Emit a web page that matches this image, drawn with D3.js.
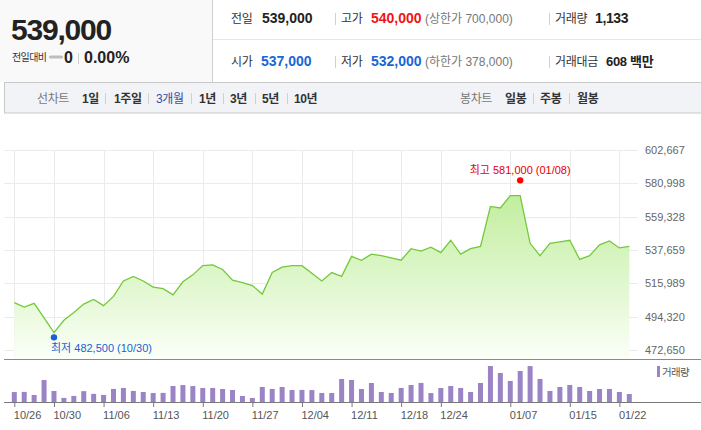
<!DOCTYPE html>
<html>
<head>
<meta charset="utf-8">
<script src="https://cdn.jsdelivr.net/npm/d3@7"></script>
<style>
  body { margin: 0; background: #fff; }
  svg { display: block; font-family: "Liberation Sans", "Noto Sans CJK KR", sans-serif; }
</style>
</head>
<body>
<svg id="page" width="701" height="430"></svg>
<script>
// trading days, 2020-10-26 .. 2021-01-25
var dates = ["10/26","10/27","10/28","10/29","10/30",
  "11/02","11/03","11/04","11/05","11/06","11/09","11/10","11/11","11/12","11/13",
  "11/16","11/17","11/18","11/19","11/20","11/23","11/24","11/25","11/26","11/27","11/30",
  "12/01","12/02","12/03","12/04","12/07","12/08","12/09","12/10","12/11",
  "12/14","12/15","12/16","12/17","12/18","12/21","12/22","12/23","12/24",
  "12/28","12/29","12/30","01/04","01/05","01/06","01/07","01/08",
  "01/11","01/12","01/13","01/14","01/15","01/18","01/19","01/20","01/21","01/22","01/25"];

// closing price
var closes = [503500, 500500, 503000, 493500, 484000, 492000, 497000, 502500, 505500, 501500,
  507500, 517500, 520500, 517500, 513500, 512500, 508500, 517000, 521500, 527500,
  528000, 525000, 518000, 516500, 514500, 509000, 523000, 526500, 527500, 527500,
  522500, 517500, 523000, 520500, 533500, 531000, 535000, 534000, 532500, 531000,
  538500, 537000, 539500, 536000, 544000, 535000, 538500, 540000, 566000, 565000,
  573000, 573000, 542000, 534000, 542000, 543000, 544000, 531500, 534000, 541000,
  543500, 539000, 540000];

// volume (shares)
var volumes = [1410, 1430, 990, 3120, 1560, 580, 860, 1540, 1150, 1000,
  1850, 1990, 1570, 1420, 1280, 1290, 2270, 2400, 2260, 1980,
  1990, 1840, 1700, 850, 570, 2130, 1850, 2120, 1700, 1710,
  1690, 1280, 1270, 3260, 3120, 1840, 2690, 1420, 1280, 1990,
  2410, 2700, 1270, 1980, 2270, 1990, 1420, 2690, 5100, 4110,
  2980, 4390, 5090, 3260, 1560, 2130, 2410, 2120, 1560, 1840,
  1850, 1420, 1133];

var tickDates = ["10/26","10/30","11/06","11/13","11/20","11/27","12/04","12/11","12/18","12/24","01/07","01/15","01/22"];
var priceTicks = [472650, 494320, 515989, 537659, 559328, 580998, 602667];

var highMark = { value: 581000, date: "01/08" };
var lowMark = { value: 482500, date: "10/30" };

var svg = d3.select("#page");

function txt(g, x, y, s, size, color, weight, spacing) {
  return g.append("text")
    .attr("x", x).attr("y", y)
    .attr("font-size", size)
    .attr("fill", color || "#333")
    .attr("font-weight", weight || "normal")
    .attr("letter-spacing", spacing || 0)
    .text(s);
}

function vsep(g, x, y1, y2) {
  g.append("line")
    .attr("x1", x).attr("x2", x).attr("y1", y1).attr("y2", y2)
    .attr("stroke", "#d0d0d0");
}

/*
 * Quote header + period tabs
 */
function drawHeader() {
  var g = svg.append("g").attr("class", "header");

  g.append("rect").attr("x", 0).attr("y", 0).attr("width", 212).attr("height", 82).attr("fill", "#f9f9f9");
  g.append("line").attr("x1", 212.5).attr("x2", 212.5).attr("y1", 0).attr("y2", 82).attr("stroke", "#cfcfcf");
  g.append("line").attr("x1", 213).attr("x2", 701).attr("y1", 39.5).attr("y2", 39.5).attr("stroke", "#e6e6e6");

  txt(g, 11, 40, "539,000", 30, "#222", "bold", -1.2);
  txt(g, 12, 61, "전일대비", 10, "#333", "normal", -0.6);
  g.append("rect").attr("x", 49).attr("y", 55.5).attr("width", 14).attr("height", 3).attr("rx", 1.5).attr("fill", "#bdbdbd");
  txt(g, 64, 63, "0", 16, "#222", "bold");
  vsep(g, 78.5, 53, 64);
  txt(g, 84, 63, "0.00%", 16, "#222", "bold");

  // row 1
  txt(g, 231, 23, "전일", 12, "#333", "normal", -0.3);
  txt(g, 262, 23, "539,000", 14, "#222", "bold");
  vsep(g, 335.5, 13, 25);
  txt(g, 341, 23, "고가", 12, "#333", "normal", -0.3);
  txt(g, 371, 23, "540,000", 14, "#f01414", "bold");
  txt(g, 425, 23, "(상한가 700,000)", 12, "#777");
  vsep(g, 549.5, 13, 25);
  txt(g, 555, 23, "거래량", 12, "#333", "normal", -0.3);
  txt(g, 595, 23, "1,133", 14, "#222", "bold", -0.4);

  // row 2
  txt(g, 231, 66, "시가", 12, "#333", "normal", -0.3);
  txt(g, 261, 66, "537,000", 14, "#1a66d6", "bold");
  vsep(g, 335.5, 56, 68);
  txt(g, 341, 66, "저가", 12, "#333", "normal", -0.3);
  txt(g, 371, 66, "532,000", 14, "#1a66d6", "bold");
  txt(g, 425, 66, "(하한가 378,000)", 12, "#777");
  vsep(g, 549.5, 56, 68);
  txt(g, 555, 66, "거래대금", 12, "#333", "normal", -0.3);
  txt(g, 606, 66, "608 백만", 13, "#222", "bold", -0.3);

  // tabs bar
  g.append("rect").attr("x", 4.5).attr("y", 82.5).attr("width", 700).attr("height", 30.5)
    .attr("fill", "#f2f3f7").attr("stroke", "#c9c9c9");

  txt(g, 37, 103, "선차트", 12, "#777", "normal", -0.4);
  txt(g, 82, 103, "1일", 12, "#333", "bold", -0.4);
  vsep(g, 105.5, 93, 104);
  txt(g, 114, 103, "1주일", 12, "#333", "bold", -0.4);
  vsep(g, 148.5, 93, 104);
  txt(g, 156, 103, "3개월", 12, "#3b4da3", "normal", -0.4);
  vsep(g, 191.5, 93, 104);
  txt(g, 199, 103, "1년", 12, "#333", "bold", -0.4);
  vsep(g, 223.5, 93, 104);
  txt(g, 230, 103, "3년", 12, "#333", "bold", -0.4);
  vsep(g, 255.5, 93, 104);
  txt(g, 262, 103, "5년", 12, "#333", "bold", -0.4);
  vsep(g, 287.5, 93, 104);
  txt(g, 294, 103, "10년", 12, "#333", "bold", -0.4);

  txt(g, 460, 103, "봉차트", 12, "#777", "normal", -0.4);
  txt(g, 505, 103, "일봉", 12, "#333", "bold", -0.4);
  vsep(g, 533.5, 93, 104);
  txt(g, 540, 103, "주봉", 12, "#333", "bold", -0.4);
  vsep(g, 569.5, 93, 104);
  txt(g, 577, 103, "월봉", 12, "#333", "bold", -0.4);
}


/*
 * PriceChart - area line of closing prices with volume bars underneath
 */
PriceChart = function(_svg) {
  this.svg = _svg;
  this.initVis();
}

PriceChart.prototype.initVis = function() {
  var vis = this;

  vis.left = 4;
  vis.gridRight = 638;
  vis.top = 150;
  vis.bottom = 359;
  vis.volBase = 402;

  vis.x = d3.scalePoint().domain(dates).range([14.3, 629.3]);
  vis.y = d3.scaleLinear().domain(d3.extent(priceTicks)).range([350, 150]);
  vis.yVol = d3.scaleLinear().domain([0, d3.max(volumes)]).range([vis.volBase, 366]);

  var defs = vis.svg.append("defs");
  var grad = defs.append("linearGradient")
    .attr("id", "areaFill")
    .attr("gradientUnits", "userSpaceOnUse")
    .attr("x1", 0).attr("x2", 0).attr("y1", vis.top).attr("y2", vis.bottom);
  grad.append("stop").attr("offset", "0%").attr("stop-color", "#b2e986");
  grad.append("stop").attr("offset", "100%").attr("stop-color", "#fbfff8");

  vis.g = vis.svg.append("g").attr("class", "chart");

  // grid
  vis.g.selectAll(".hgrid").data(priceTicks).enter().append("line")
    .attr("class", "hgrid")
    .attr("x1", vis.left).attr("x2", vis.gridRight)
    .attr("y1", function(d) { return Math.round(vis.y(d)) + 0.5; })
    .attr("y2", function(d) { return Math.round(vis.y(d)) + 0.5; })
    .attr("stroke", "#ebebeb");

  vis.g.selectAll(".vgrid").data(tickDates).enter().append("line")
    .attr("class", "vgrid")
    .attr("x1", function(d) { return Math.round(vis.x(d)) + 0.5; })
    .attr("x2", function(d) { return Math.round(vis.x(d)) + 0.5; })
    .attr("y1", vis.top).attr("y2", vis.bottom)
    .attr("stroke", "#ebebeb");

  vis.updateVis();
}

PriceChart.prototype.updateVis = function() {
  var vis = this;

  var area = d3.area()
    .x(function(d, i) { return vis.x(dates[i]); })
    .y0(vis.bottom)
    .y1(function(d) { return vis.y(d); });

  var line = d3.line()
    .x(function(d, i) { return vis.x(dates[i]); })
    .y(function(d) { return vis.y(d); });

  vis.g.append("path").datum(closes)
    .attr("d", area)
    .attr("fill", "url(#areaFill)");

  vis.g.append("path").datum(closes)
    .attr("d", line)
    .attr("fill", "none")
    .attr("stroke", "#72c93a")
    .attr("stroke-width", 1.3);

  // price axis on the right
  var yAxis = d3.axisRight(vis.y)
    .tickValues(priceTicks)
    .tickSize(0)
    .tickPadding(0)
    .tickFormat(d3.format(","));

  vis.g.append("g")
    .attr("class", "y-axis axis")
    .attr("transform", "translate(645,0)")
    .call(yAxis)
    .call(function(g) { g.select(".domain").remove(); })
    .selectAll("text")
      .attr("font-size", 11)
      .attr("font-family", "Liberation Sans, sans-serif")
      .attr("fill", "#666");

  // high / low markers
  var hx = vis.x(highMark.date), hy = vis.y(highMark.value) - 3;
  vis.g.append("circle").attr("cx", hx).attr("cy", hy).attr("r", 3.2).attr("fill", "#f00");
  vis.g.append("text")
    .attr("x", hx).attr("y", 174)
    .attr("text-anchor", "middle")
    .attr("font-size", 11)
    .attr("fill", "#e60000")
    .text("최고 " + d3.format(",")(highMark.value) + " (" + highMark.date + ")");

  var lx = vis.x(lowMark.date), ly = vis.y(lowMark.value) + 2.5;
  vis.g.append("circle").attr("cx", lx).attr("cy", ly).attr("r", 3.2).attr("fill", "#1a5fd6");
  vis.g.append("text")
    .attr("x", lx - 3).attr("y", ly + 15)
    .attr("font-size", 11)
    .attr("fill", "#1a5fd6")
    .text("최저 " + d3.format(",")(lowMark.value) + " (" + lowMark.date + ")");

  // separator under price area
  vis.g.append("line")
    .attr("x1", vis.left).attr("x2", 701)
    .attr("y1", vis.bottom + 0.5).attr("y2", vis.bottom + 0.5)
    .attr("stroke", "#8a8a8a");

  // volume bars
  vis.g.selectAll(".vol").data(volumes).enter().append("rect")
    .attr("class", "vol")
    .attr("x", function(d, i) { return vis.x(dates[i]) - 2.5; })
    .attr("width", 5)
    .attr("y", function(d) { return vis.yVol(d); })
    .attr("height", function(d) { return vis.volBase - vis.yVol(d); })
    .attr("fill", "#9b84c6");

  // volume baseline + date axis
  vis.g.append("line")
    .attr("x1", vis.left).attr("x2", 701)
    .attr("y1", vis.volBase + 0.5).attr("y2", vis.volBase + 0.5)
    .attr("stroke", "#7a7a7a");

  var xAxis = d3.axisBottom(vis.x)
    .tickValues(tickDates)
    .tickSize(5)
    .tickPadding(4);

  var xg = vis.g.append("g")
    .attr("class", "x-axis axis")
    .attr("transform", "translate(0," + vis.volBase + ")")
    .call(xAxis);
  xg.select(".domain").remove();
  xg.selectAll(".tick line").attr("stroke", "#7a7a7a");
  xg.selectAll("text")
    .attr("text-anchor", "start")
    .attr("dx", -1)
    .attr("font-size", 11)
    .attr("font-family", "Liberation Sans, sans-serif")
    .attr("fill", "#555");

  // legend
  vis.g.append("rect").attr("x", 657).attr("y", 366).attr("width", 3).attr("height", 11).attr("fill", "#9b84c6");
  vis.g.append("text").attr("x", 662).attr("y", 376)
    .attr("font-size", 10.5).attr("fill", "#555").attr("letter-spacing", -0.6)
    .text("거래량");
}

drawHeader();
var chart = new PriceChart(svg);
</script>
</body>
</html>
